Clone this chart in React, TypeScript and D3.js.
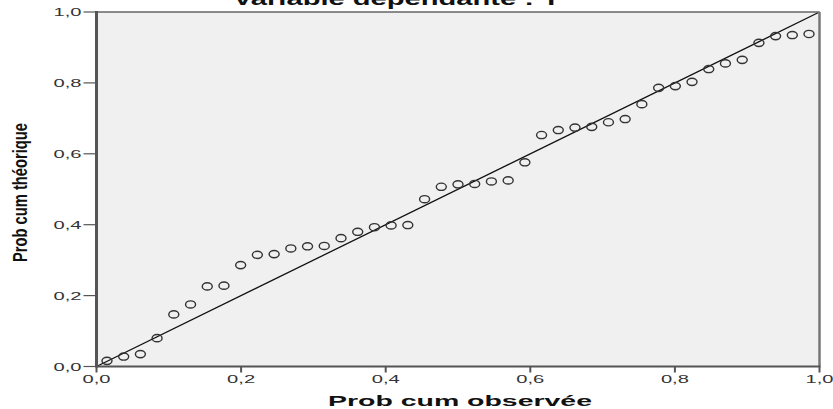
import React from "react";
import * as d3 from "d3";

const observed = [
  0.0145, 0.0376, 0.0607, 0.0838, 0.1069, 0.1301, 0.1532, 0.1763, 0.1994, 0.2225,
  0.2457, 0.2688, 0.2919, 0.315, 0.3382, 0.3613, 0.3844, 0.4075, 0.4306, 0.4538,
  0.4769, 0.5, 0.5231, 0.5462, 0.5694, 0.5925, 0.6156, 0.6387, 0.6618, 0.685,
  0.7081, 0.7312, 0.7543, 0.7775, 0.8006, 0.8237, 0.8468, 0.8699, 0.8931, 0.9162,
  0.9393, 0.9624, 0.9855,
];
const expected = [
  0.016, 0.028, 0.035, 0.08, 0.147, 0.175, 0.226, 0.228, 0.286, 0.315,
  0.317, 0.333, 0.339, 0.34, 0.362, 0.38, 0.393, 0.398, 0.399, 0.472,
  0.507, 0.514, 0.515, 0.522, 0.525, 0.576, 0.653, 0.667, 0.674, 0.676,
  0.689, 0.698, 0.74, 0.786, 0.791, 0.803, 0.839, 0.855, 0.865, 0.913,
  0.932, 0.935, 0.938,
];
const ticks = [0, 0.2, 0.4, 0.6, 0.8, 1.0];
const tickLabels = ["0,0", "0,2", "0,4", "0,6", "0,8", "1,0"];
const title = "Variable dépendante : Y";
const xTitle = "Prob cum observée";
const yTitle = "Prob cum théorique";

const W = 833;
const H = 409;
const L = 96.5;
const R = 819.5;
const T = 12;
const B = 366.5;

export default function App() {
  const x = d3.scaleLinear().domain([0, 1]).range([L, R]);
  const y = d3.scaleLinear().domain([0, 1]).range([B, T]);
  const font = "'Liberation Sans', Arial, sans-serif";
  return (
    <svg
      width={W}
      height={H}
      style={{ position: "absolute", left: 0, top: 0, background: "#fff" }}
    >
      <rect x={L} y={T} width={R - L} height={B - T} fill="#f0f0f0" />
      {/* title */}
      <text
        x={233}
        y={5}
        fontFamily={font}
        fontWeight="bold"
        fontSize={18}
        fill="#111"
        textLength={328}
        lengthAdjust="spacingAndGlyphs"
      >
        {title}
      </text>
      {/* diagonal reference line */}
      <line x1={x(0)} y1={y(0)} x2={x(1)} y2={y(1)} stroke="#111" strokeWidth={1.3} />
      {/* points */}
      {observed.map((o, i) => (
        <ellipse
          key={i}
          cx={x(o)}
          cy={y(expected[i])}
          rx={5}
          ry={3.6}
          fill="none"
          stroke="#333"
          strokeWidth={1.4}
        />
      ))}
      {/* frame */}
      <line x1={L} y1={T} x2={R} y2={T} stroke="#666" strokeWidth={1.5} />
      <line x1={R} y1={T} x2={R} y2={B} stroke="#777" strokeWidth={2.5} />
      <line x1={L} y1={B} x2={R + 1} y2={B} stroke="#555" strokeWidth={2} />
      <line x1={L} y1={T - 1} x2={L} y2={B + 1} stroke="#555" strokeWidth={3} />
      {/* y ticks */}
      {ticks.map((t, i) => (
        <g key={"y" + i}>
          <line x1={L - 13} x2={L} y1={y(t)} y2={y(t)} stroke="#555" strokeWidth={1.2} />
          <text
            x={L - 43}
            y={y(t) + 4}
            fontFamily={font}
            fontSize={11}
            fill="#333"
            textLength={28}
            lengthAdjust="spacingAndGlyphs"
          >
            {tickLabels[i]}
          </text>
        </g>
      ))}
      {/* x ticks */}
      {ticks.map((t, i) => (
        <g key={"x" + i}>
          <line x1={x(t)} x2={x(t)} y1={B} y2={B + 6} stroke="#555" strokeWidth={2} />
          <text
            x={x(t) - 14}
            y={383}
            fontFamily={font}
            fontSize={11}
            fill="#333"
            textLength={28}
            lengthAdjust="spacingAndGlyphs"
          >
            {tickLabels[i]}
          </text>
        </g>
      ))}
      {/* axis titles */}
      <text
        x={328}
        y={406}
        fontFamily={font}
        fontWeight="bold"
        fontSize={15}
        fill="#111"
        textLength={264}
        lengthAdjust="spacingAndGlyphs"
      >
        {xTitle}
      </text>
      <text
        transform={`translate(27,262) rotate(-90)`}
        x={0}
        y={0}
        fontFamily={font}
        fontWeight="bold"
        fontSize={20}
        fill="#111"
        textLength={139}
        lengthAdjust="spacingAndGlyphs"
      >
        {yTitle}
      </text>
    </svg>
  );
}
